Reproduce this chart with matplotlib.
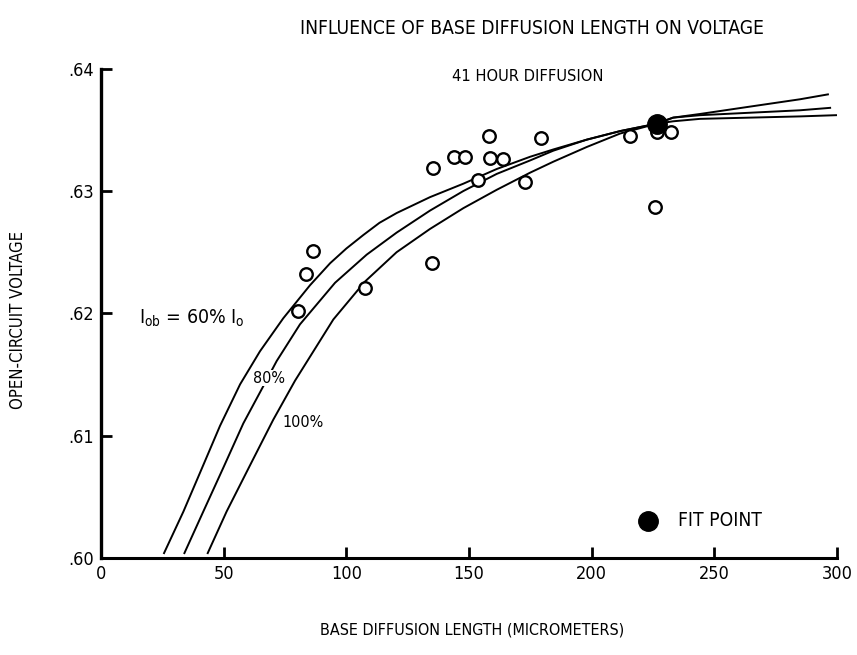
import numpy as np
import matplotlib
matplotlib.use("Agg")
import matplotlib.pyplot as plt

plt.rcParams['font.family'] = ['DejaVu Sans']
plt.rcParams['font.stretch'] = 'condensed'

# measured points (open circles)
pts_x = [80.4, 83.7, 86.6, 107.5, 135.1, 135.4, 143.7, 148.3, 153.6, 158.2,
         158.6, 163.9, 172.8, 179.2, 215.6, 225.7, 226.8, 232.4]
pts_y = [0.6202, 0.6232, 0.6251, 0.6221, 0.6241, 0.6319, 0.6328, 0.6328, 0.6309, 0.6345,
         0.6327, 0.6326, 0.6307, 0.6343, 0.6345, 0.6287, 0.6348, 0.6348]

# fit point
fit_x = [226.6]
fit_y = [0.6355]

# curve Iob = 60% Io
c60_x = [25.7, 33.6, 41.7, 48.5, 56.7, 64.8, 74.3, 85.2, 93.4, 100.0, 106.9, 113.5, 120.5, 134.1,
         147.7, 161.3, 174.9, 184.4, 198.0, 211.6, 226.4, 233.2, 244.2, 264.5, 284.9, 299.6]
c60_y = [0.6004, 0.6038, 0.6076, 0.6108, 0.6142, 0.6169, 0.6196, 0.6223, 0.6241, 0.6253, 0.6264, 0.6274,
         0.6282, 0.6295, 0.6306, 0.6318, 0.6328, 0.6334, 0.6342, 0.6349, 0.6355, 0.6357, 0.6359, 0.6360,
         0.6361, 0.6362]

# curve 80%
c80_x = [34.0, 41.7, 49.9, 58.0, 65.5, 71.6, 81.1, 95.4, 108.3, 120.5, 134.1,
         147.7, 161.3, 174.9, 184.4, 198.0, 211.6, 226.4, 233.2, 244.2, 264.5, 284.9, 297.2]
c80_y = [0.6004, 0.6038, 0.6074, 0.6110, 0.6138, 0.6161, 0.6191, 0.6225, 0.6248, 0.6266, 0.6284,
         0.6300, 0.6314, 0.6325, 0.6333, 0.6342, 0.6349, 0.6355, 0.6360, 0.6362, 0.6364, 0.6366, 0.6368]

# curve 100%
c100_x = [43.5, 51.2, 60.8, 70.2, 79.1, 94.7, 107.6, 120.5, 134.1, 147.7, 161.3,
          174.9, 184.4, 198.0, 211.6, 226.4, 233.2, 244.2, 264.5, 284.9, 296.3]
c100_y = [0.6004, 0.6038, 0.6076, 0.6113, 0.6145, 0.6195, 0.6226, 0.6250, 0.6269, 0.6286, 0.6301,
          0.6315, 0.6324, 0.6336, 0.6347, 0.6355, 0.6360, 0.6363, 0.6369, 0.6375, 0.6379]

xticks = [0, 50, 100, 150, 200, 250, 300]
yticks = [0.60, 0.61, 0.62, 0.63, 0.64]
ytick_labels = ['.60', '.61', '.62', '.63', '.64']

fig = plt.figure(figsize=(8.57, 6.55), dpi=100)
ax = fig.add_axes([101/857, 1-558/655, 736/857, (558-68.7)/655])

for cx, cy in [(c60_x, c60_y), (c80_x, c80_y), (c100_x, c100_y)]:
    ax.plot(cx, cy, color='black', linewidth=1.4, solid_joinstyle='round')

ax.plot(pts_x, pts_y, linestyle='', marker='o', markersize=9,
        markerfacecolor='white', markeredgecolor='black', markeredgewidth=1.7)
ax.plot(fit_x, fit_y, linestyle='', marker='o', markersize=14, color='black')

# legend for fit point
ax.plot([223], [0.6030], linestyle='', marker='o', markersize=14, color='black',
        clip_on=False)
ax.text(235, 0.6031, 'FIT POINT', fontsize=13.8, va='center', ha='left')

# curve labels
ax.text(15.5, 0.6196, r'I$_{\rm ob}$ = 60% I$_{\rm o}$', fontsize=14, va='center', ha='left')
ax.text(68.5, 0.6147, '80%', fontsize=11.5, va='center', ha='center',
        bbox=dict(facecolor='white', edgecolor='none', pad=0.5))
ax.text(74, 0.6111, '100%', fontsize=11.5, va='center', ha='left')
ax.text(174, 0.6394, '41 HOUR DIFFUSION', fontsize=11.8, va='center', ha='center')

ax.axis([0, 300, 0.60, 0.64])
ax.set_xticks(xticks)
ax.set_yticks(yticks)
ax.set_yticklabels(ytick_labels)
ax.tick_params(direction='in', length=8, width=2, labelsize=13, pad=5)
ax.spines['top'].set_visible(False)
ax.spines['right'].set_visible(False)
ax.spines['left'].set_linewidth(2.4)
ax.spines['bottom'].set_linewidth(2.2)

fig.text(532/857, 1-28/655, 'INFLUENCE OF BASE DIFFUSION LENGTH ON VOLTAGE',
         fontsize=13.8, ha='center', va='center')
fig.text(472/857, 1-630/655, 'BASE DIFFUSION LENGTH (MICROMETERS)',
         fontsize=11.5, ha='center', va='center')
fig.text(18/857, 1-320/655, 'OPEN-CIRCUIT VOLTAGE', fontsize=12,
         ha='center', va='center', rotation=90)

fig.savefig('out.png', dpi=100)
